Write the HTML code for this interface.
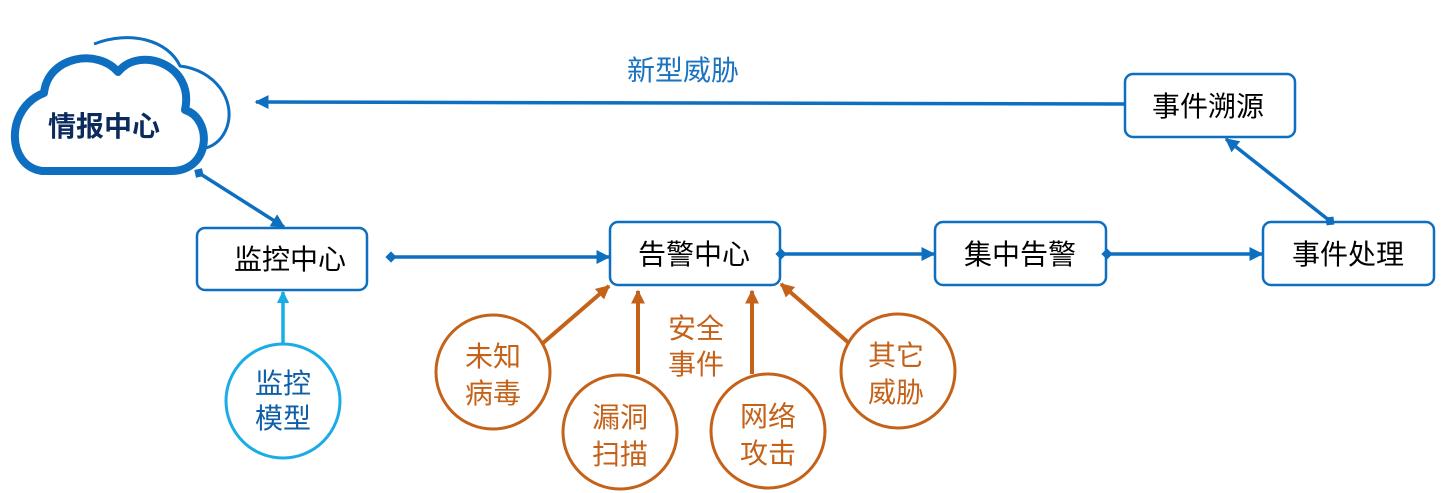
<!DOCTYPE html>
<html><head><meta charset="utf-8"><style>
body{margin:0;background:#fff;}
svg{display:block;}
text{font-family:"Liberation Sans","Noto Sans CJK SC",sans-serif;}
</style></head><body>
<svg width="1449" height="493" viewBox="0 0 1449 493" xmlns="http://www.w3.org/2000/svg">
<defs>
<marker id="ab" viewBox="0 0 10 10" refX="9" refY="5" markerWidth="4" markerHeight="4" orient="auto-start-reverse" markerUnits="strokeWidth"><path d="M0,0 L10,5 L0,10 z" fill="#0e6fc1"/></marker>
<marker id="db" viewBox="0 0 10 10" refX="5" refY="5" markerWidth="3.2" markerHeight="3.2" orient="auto" markerUnits="strokeWidth"><path d="M0,5 L5,0 L10,5 L5,10 z" fill="#0e6fc1"/></marker>
<marker id="ao" viewBox="0 0 10 10" refX="9" refY="5" markerWidth="3.5" markerHeight="3.5" orient="auto" markerUnits="strokeWidth"><path d="M0,0 L10,5 L0,10 z" fill="#c5621a"/></marker>
<marker id="al" viewBox="0 0 10 10" refX="9" refY="5" markerWidth="3.5" markerHeight="3.5" orient="auto" markerUnits="strokeWidth"><path d="M0,0 L10,5 L0,10 z" fill="#1aace6"/></marker>
</defs>
<!-- cloud back arc -->
<path d="M94,44 C130,30 168,40 180,66 C215,70 236,100 227,127 C223,138 216,145 206,148" fill="none" stroke="#0e6fc1" stroke-width="3"/>
<!-- main cloud -->
<path d="M42,171 C6,166 5,108 44,93 C48,56 98,48 118,72 C140,45 195,65 185,110 C212,118 212,170 172,171 Z" fill="#fff" stroke="#0e6fc1" stroke-width="8" stroke-linejoin="round"/>
<text x="104" y="136" font-size="28" font-weight="bold" fill="#0b2a5e" text-anchor="middle">情报中心</text>

<!-- boxes -->
<g fill="#fff" stroke="#0e6fc1" stroke-width="2.5">
<rect x="197" y="228" width="170" height="62" rx="8"/>
<rect x="610" y="222" width="170" height="63" rx="8"/>
<rect x="935" y="222" width="171" height="63" rx="8"/>
<rect x="1263" y="222" width="171" height="63" rx="8"/>
<rect x="1125" y="74" width="170" height="63" rx="8"/>
</g>
<g font-size="28" fill="#000" text-anchor="middle">
<text x="290" y="269">监控中心</text>
<text x="694" y="264">告警中心</text>
<text x="1020" y="264">集中告警</text>
<text x="1348" y="264">事件处理</text>
<text x="1208" y="116">事件溯源</text>
</g>

<!-- blue connectors -->
<g stroke="#0e6fc1" stroke-width="3.5" fill="none">
<line x1="1125" y1="104" x2="256" y2="102" marker-end="url(#ab)"/>
<line x1="199" y1="173" x2="284" y2="227" marker-start="url(#db)" marker-end="url(#ab)"/>
<line x1="391" y1="257" x2="609" y2="257" marker-start="url(#db)" marker-end="url(#ab)"/>
<line x1="781" y1="254" x2="934" y2="254" marker-start="url(#db)" marker-end="url(#ab)"/>
<line x1="1107" y1="254" x2="1262" y2="254" marker-start="url(#db)" marker-end="url(#ab)"/>
<line x1="1330" y1="221" x2="1226" y2="139" marker-start="url(#db)" marker-end="url(#ab)"/>
</g>
<text x="683" y="80" font-size="28" fill="#1a73c0" text-anchor="middle">新型威胁</text>

<!-- monitor model -->
<line x1="283" y1="343" x2="283" y2="292" stroke="#1aace6" stroke-width="3.5" marker-end="url(#al)"/>
<circle cx="283" cy="401" r="57" fill="#fff" stroke="#1aace6" stroke-width="3"/>
<g font-size="28" fill="#0e5fa8" text-anchor="middle">
<text x="283" y="393">监控</text><text x="283" y="428">模型</text></g>

<!-- orange -->
<g stroke="#c5621a" stroke-width="4" fill="none">
<line x1="543" y1="343" x2="609" y2="286" marker-end="url(#ao)"/>
<line x1="638" y1="374" x2="638" y2="291" marker-end="url(#ao)"/>
<line x1="752" y1="374" x2="752" y2="291" marker-end="url(#ao)"/>
<line x1="850" y1="344" x2="781" y2="284" marker-end="url(#ao)"/>
</g>
<g fill="#fff" stroke="#c5621a" stroke-width="3">
<circle cx="493" cy="372" r="57"/>
<circle cx="620" cy="432" r="57"/>
<circle cx="768" cy="431" r="57"/>
<circle cx="898" cy="371" r="57"/>
</g>
<g font-size="28" fill="#c5621a" text-anchor="middle">
<text x="493" y="366">未知</text><text x="493" y="403">病毒</text>
<text x="620" y="427">漏洞</text><text x="620" y="464">扫描</text>
<text x="768" y="426">网络</text><text x="768" y="463">攻击</text>
<text x="896" y="365">其它</text><text x="896" y="402">威胁</text>
<text x="696" y="338">安全</text><text x="696" y="374">事件</text>
</g>
</svg>
</body></html>
